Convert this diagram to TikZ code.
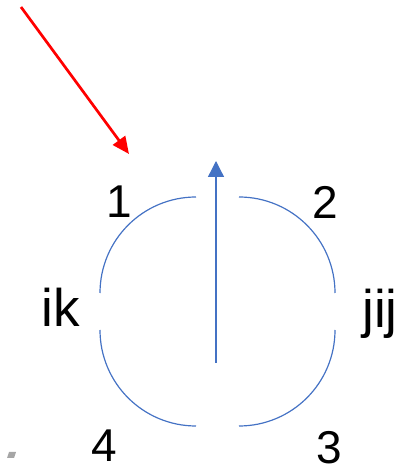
\documentclass[tikz,border=0pt]{standalone}
\usepackage{fontspec}
\setmainfont{Liberation Sans}
\usepackage{xcolor}
\definecolor{ArcBlue}{HTML}{4472C4}
\definecolor{PointerRed}{HTML}{FF0000}
\definecolor{MarkGray}{HTML}{A6A6A6}
\usetikzlibrary{arrows.meta}
\tikzset{
  quad/.style={draw=ArcBlue, line width=1.2pt},
  lbl/.style={anchor=base, inner sep=0pt, font=\fontsize{46}{50}\selectfont},
  slbl/.style={anchor=base, inner sep=0pt, font=\fontsize{53}{58}\selectfont},
  uparr/.style={-{Triangle[length=16pt, width=16pt]}, draw=ArcBlue, fill=ArcBlue, line width=1.3pt},
  redarr/.style={-{Triangle[length=17pt, width=15pt]}, draw=PointerRed, fill=PointerRed, line width=2.7pt},
}

\begin{document}
\begin{tikzpicture}[x=1pt, y=1pt]
  \useasboundingbox (0,0) rectangle (412,472);

  % Quarter arcs
  \draw[quad] (196,275) arc[start angle=90, end angle=180, radius=96];
  \draw[quad] (239,275) arc[start angle=90, end angle=0, radius=96];
  \draw[quad] (100,142) arc[start angle=180, end angle=270, radius=96];
  \draw[quad] (335,142) arc[start angle=0, end angle=-90, radius=96];

  % Corner and side labels
  \node[lbl] (one)   at (119,254) {1};
  \node[lbl] (two)   at (325.5,253) {2};
  \node[lbl] (three) at (329,9) {3};
  \node[lbl] (four)  at (104,10) {4};
  \node[slbl] (ik)   at (61,145) {ik};
  \node[slbl] (jij)  at (380,144) {jij};

  % Arrows
  \coordinate (upbase) at (216,109);
  \coordinate (uptip)  at (216,311);
  \coordinate (redstart) at (21,465);
  \coordinate (redtip)   at (129,318);
  \draw[uparr] (upbase) -- (uptip);
  \draw[redarr] (redstart) -- (redtip);

  % stray mark
  \fill[MarkGray] (7,14) -- (14,14) -- (16,20) -- (9,20) -- cycle;

\end{tikzpicture}
\end{document}
